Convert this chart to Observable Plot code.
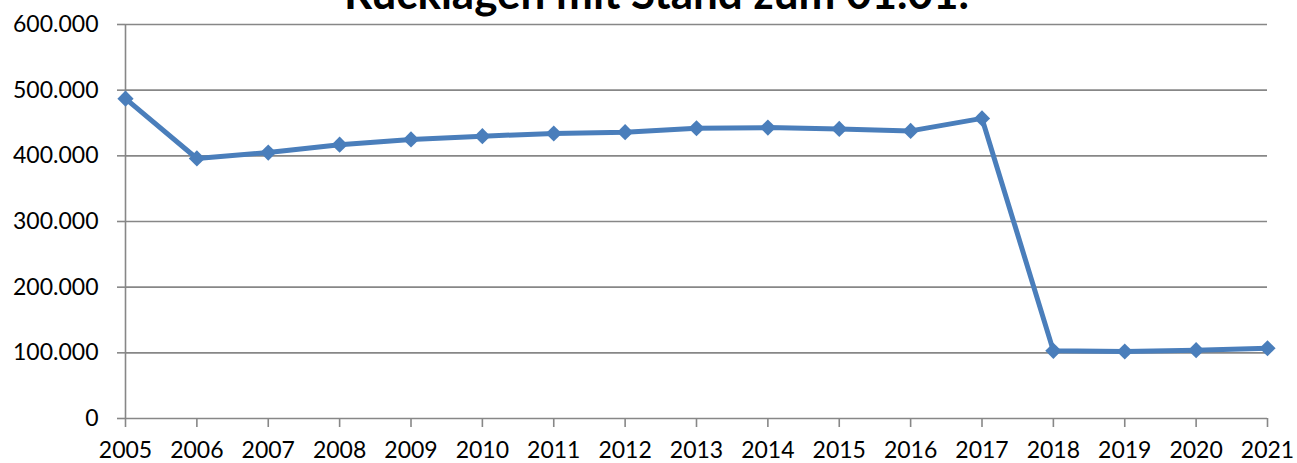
<!DOCTYPE html>
<html>
<head>
<meta charset="utf-8">
<script src="https://cdn.jsdelivr.net/npm/d3@7"></script>
<script src="https://cdn.jsdelivr.net/npm/@observablehq/plot@0.6"></script>
<style>
  html, body { margin: 0; padding: 0; background: #fff; overflow: hidden; }
  #wrap { position: relative; width: 1297px; height: 463px; overflow: hidden; }
  #title { position: absolute; left: 0; width: 1297px; top: -34px; text-align: center;
           font-family: Lato, sans-serif; font-weight: bold; font-size: 44px; line-height: 1.2; color: #000; margin: 0;
           padding-left: 16px; box-sizing: border-box; white-space: nowrap; }
  svg { position: absolute; left: 0; top: 0; }
</style>
</head>
<body>
<div id="wrap"><div id="title">Rücklagen mit Stand zum 01.01.</div></div>
<script>
const years = [2005,2006,2007,2008,2009,2010,2011,2012,2013,2014,2015,2016,2017,2018,2019,2020,2021];
const values = [487000,396000,405000,417000,425000,430000,434000,436000,442000,443000,441000,438000,457000,103000,102000,104000,107000];
const yTicks = [0,100000,200000,300000,400000,500000,600000];

const data = years.map((year, i) => ({year, value: values[i]}));
const de = d3.formatLocale({decimal: ",", thousands: ".", grouping: [3], currency: ["", " €"]});
const fmt = de.format(",");
const gridColor = "#878787";

const chart = Plot.plot({
  width: 1297,
  height: 463,
  marginTop: 24,
  marginBottom: 45,
  marginLeft: 125,
  marginRight: 30,
  style: {fontFamily: "Lato, sans-serif", fontSize: "23px", color: "#000", background: "transparent"},
  x: {type: "linear", domain: [2005, 2021], ticks: years, tickFormat: d => String(d), label: null},
  y: {domain: [0, 600000], ticks: yTicks, tickFormat: fmt, label: null},
  marks: [
    Plot.ruleY(yTicks, {stroke: gridColor, strokeWidth: 1.6}),
    Plot.ruleX([2005], {y1: 0, y2: 600000, stroke: gridColor, strokeWidth: 1.6}),
    Plot.axisY({ticks: yTicks, tickFormat: fmt, tickSize: 8, tickPadding: 19, stroke: gridColor, strokeWidth: 1.6, strokeOpacity: 1, fill: "#000", label: null}),
    Plot.axisX({ticks: years, tickFormat: d => String(d), tickSize: 9, tickPadding: 14, stroke: gridColor, strokeWidth: 1.6, strokeOpacity: 1, fill: "#000", label: null}),
    Plot.line(data, {x: "year", y: "value", stroke: "#4a7ebb", strokeWidth: 5}),
    Plot.dot(data, {x: "year", y: "value", symbol: "diamond2", r: 7.3, fill: "#4a7ebb", stroke: "none"})
  ]
});
document.getElementById("wrap").prepend(chart);
</script>
</body>
</html>
